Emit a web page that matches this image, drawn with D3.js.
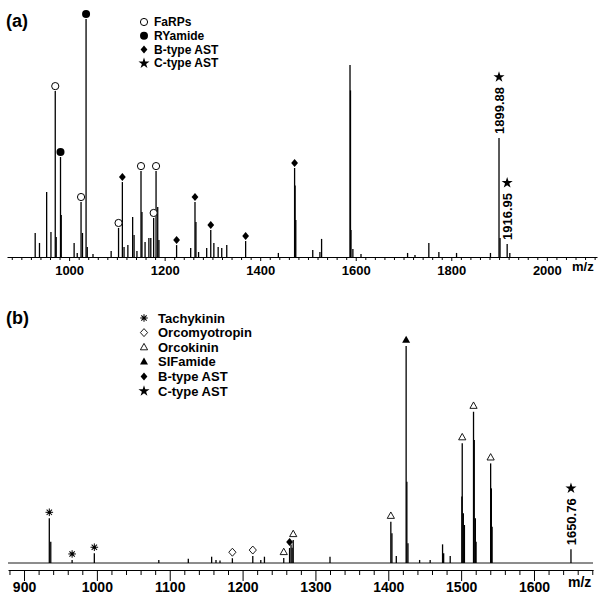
<!DOCTYPE html>
<html>
<head>
<meta charset="utf-8">
<script src="https://cdn.jsdelivr.net/npm/d3@7"></script>
<style>
  body { margin: 0; background: #fff; }
  svg { display: block; }
  text { font-family: Arial, "Liberation Sans", sans-serif; font-weight: bold; fill: #000; }
</style>
</head>
<body>
<svg id="chart" width="602" height="599"></svg>
<script>
// ---- panel (a) data: [m/z, relative intensity %] ----
const topPeaks = [
  [929, 10.1], [938, 5.9], [953, 27.3], [962, 10.5], [973, 8.4], [983.5, 17.6],
  [1010.5, 5.9], [1017, 1.7], [1028, 10.1], [1038, 4.2], [1050, 1.3], [1088, 2.5],
  [1115, 4.2], [1123, 5], [1133, 16.8], [1136, 9.2], [1142, 2.5], [1152.5, 18.9],
  [1159, 6.3], [1167, 8], [1171, 8], [1185.5, 21], [1188, 7.1], [1254.5, 3.8],
  [1265.5, 14.7], [1271, 2.1], [1288, 3.8], [1303, 5.9], [1312, 4.2], [1319.5, 3.8],
  [1330, 5], [1438, 1.7], [1473, 30], [1474.5, 15.5], [1510, 2.9], [1525, 2.1],
  [1528.5, 7.6], [1588, 80.7], [1589, 70], [1590, 11.3], [1594, 3.4], [1611, 1.3],
  [1708.5, 1.7], [1724, 0.8], [1753, 5.9], [1774, 2.1], [1811, 1.7], [1882, 1.7],
  [1902, 8], [1922.5, 1.7]
];
const topFaRPs = [[971, 69.7], [1025, 23.1], [1103.5, 12.2], [1150.5, 36.1], [1177, 16.4], [1182, 36.1]];
const topRYamide = [[982, 42], [1035.5, 100]];
const topBAST = [[1111.5, 31.5], [1225, 5], [1263.5, 23.1], [1296.5, 11.3], [1369.5, 6.7], [1472, 37.4]];
const topCAST = [[1899.88, 50], [1916.95, 5.5]];
const topTicks = [1000, 1200, 1400, 1600, 1800, 2000];
const topLegend = ['FaRPs', 'RYamide', 'B-type AST', 'C-type AST'];

// ---- panel (b) data ----
const botPeaks = [
  [936.7, 9.8], [1085, 1.4], [1125.5, 2.0], [1157.5, 2.9], [1163.5, 1.4], [1169, 1.1],
  [1225, 1.4], [1230, 2.9], [1266.5, 8.5], [1268, 7], [1320, 2.9], [1405, 13.7],
  [1411, 3.2], [1425.5, 37.5], [1427, 9.1], [1443, 1.4], [1457.5, 1.4], [1474.5, 8.6],
  [1476, 4.5], [1485, 3.2], [1501, 30.6], [1503, 22.9], [1504.5, 17.5], [1518, 56.7],
  [1519.5, 20.6], [1520.5, 9.8], [1541.5, 34.4], [1542.5, 16.7]
];
const botTachykinin = [[934.7, 20.6], [966, 1.4], [996.5, 4.5]];
const botOrcomyotropin = [[1186, 2.2], [1214, 3.2]];
const botOrcokinin = [[1256.5, 2.3], [1269.5, 10.6], [1403.5, 19.0], [1501.5, 55.2], [1517, 69.7], [1540.5, 45.9]];
const botSIFamide = [[1424.5, 100]];
const botBAST = [[1264.5, 6.9]];
const botCAST = [[1650.76, 6.3]];
const botTicks = [900, 1000, 1100, 1200, 1300, 1400, 1500, 1600];
const botLegend = ['Tachykinin', 'Orcomyotropin', 'Orcokinin', 'SIFamide', 'B-type AST', 'C-type AST'];

const svg = d3.select('#chart');

// marker shapes
function marker(g, type, x, y) {
  let m;
  switch (type) {
    case 'openCircle':
      m = g.append('circle').attr('r', 3.6).attr('fill', '#fff').attr('stroke', '#000').attr('stroke-width', 1);
      break;
    case 'filledCircle':
      m = g.append('circle').attr('r', 4).attr('fill', '#000');
      break;
    case 'diamond':
      m = g.append('path').attr('d', 'M0,-4L3.4,0L0,4L-3.4,0Z').attr('fill', '#000');
      break;
    case 'openDiamond':
      m = g.append('path').attr('d', 'M0,-4L3.6,0L0,4L-3.6,0Z').attr('fill', '#fff').attr('stroke', '#000').attr('stroke-width', 0.9);
      break;
    case 'star':
      m = g.append('path').attr('d', d3.symbol(d3.symbolStar, 38)()).attr('fill', '#000');
      break;
    case 'openTriangle':
      m = g.append('path').attr('d', 'M0,-3.8L3.6,2.6L-3.6,2.6Z').attr('fill', '#fff').attr('stroke', '#000').attr('stroke-width', 0.9);
      break;
    case 'filledTriangle':
      m = g.append('path').attr('d', 'M0,-4.2L4,2.8L-4,2.8Z').attr('fill', '#000');
      break;
    case 'asterisk': {
      m = g.append('g');
      for (let a of [0, 45, 90, 135]) {
        m.append('line').attr('x1', -3.8).attr('x2', 3.8).attr('y1', 0).attr('y2', 0)
          .attr('transform', `rotate(${a})`).attr('stroke', '#000').attr('stroke-width', 1);
      }
      m.append('circle').attr('r', 1.6).attr('fill', '#000');
      break;
    }
  }
  m.attr('transform', function () {
    let t = d3.select(this).attr('transform');
    return `translate(${x},${y})` + (t ? ' ' + t : '');
  });
  return m;
}

function drawPanel(opts) {
  let { x, y, peaks, groups, ticks, minorStep, axisY, majorSize, minorSize, labelSize, pad, mzY, mzSize, legend, legendX, legendY, legendStep, legendFont, tag, tagY, baseline, offset } = opts;
  let g = svg.append('g');

  if (baseline) {
    g.append('line').attr('x1', x.range()[0]).attr('x2', x.range()[1])
      .attr('y1', y(0)).attr('y2', y(0)).attr('stroke', '#000').attr('stroke-width', 0.9);
  }

  let all = peaks.concat(...groups.map(d => d.data));
  g.append('g').selectAll('line').data(all).join('line')
    .attr('x1', d => x(d[0])).attr('x2', d => x(d[0]))
    .attr('y1', y(0)).attr('y2', d => y(d[1]))
    .attr('stroke', '#000').attr('stroke-width', 1.3);

  // minor ticks
  let [d0, d1] = x.domain();
  let minor = d3.range(Math.ceil(d0 / minorStep) * minorStep, d1, minorStep).filter(v => !ticks.includes(v));
  g.append('g').attr('transform', `translate(0,${axisY})`)
    .call(d3.axisBottom(x).tickValues(minor).tickSize(minorSize).tickSizeOuter(0).tickFormat(''))
    .call(a => a.select('.domain').attr('stroke-width', 1.2));
  g.append('g').attr('transform', `translate(0,${axisY})`)
    .call(d3.axisBottom(x).tickValues(ticks).tickSize(majorSize).tickPadding(pad).tickSizeOuter(0).tickFormat(d3.format('d')))
    .call(a => a.select('.domain').remove())
    .call(a => a.selectAll('text').attr('font-size', labelSize).attr('font-family', 'Arial, "Liberation Sans", sans-serif').attr('font-weight', 'bold').attr('fill', '#000'));

  g.append('text').attr('x', x.range()[1] - 25).attr('y', mzY).attr('font-size', mzSize).text('m/z');

  // markers + labels
  for (let grp of groups) {
    for (let d of grp.data) {
      let px = x(d[0]), top = y(d[1]);
      if (grp.label) {
        let t = g.append('text').attr('font-size', 13).attr('dominant-baseline', 'central')
          .attr('transform', `translate(${px + 0.5},${top - 4}) rotate(-90)`).text(d[0].toFixed(2));
        let len = t.node().getComputedTextLength();
        marker(g, grp.type, px, top - 4 - len - 10);
      } else {
        marker(g, grp.type, px, top - offset);
      }
    }
  }

  // legend
  legend.forEach((name, i) => {
    let ly = legendY + i * legendStep;
    marker(g, groups[i].type, legendX, ly);
    g.append('text').attr('x', legendX + (opts.legendGap || 10)).attr('y', ly)
      .attr('dominant-baseline', 'central').attr('font-size', legendFont).text(name);
  });

  g.append('text').attr('x', 6).attr('y', tagY).attr('font-size', 18).attr('dominant-baseline', 'central').text(tag);
}

// panel (a)
drawPanel({
  x: d3.scaleLinear().domain([870, 2105]).range([7, 597]),
  y: d3.scaleLinear().domain([0, 100]).range([257, 19]),
  peaks: topPeaks,
  groups: [
    { type: 'openCircle', data: topFaRPs },
    { type: 'filledCircle', data: topRYamide },
    { type: 'diamond', data: topBAST },
    { type: 'star', data: topCAST, label: true },
  ],
  ticks: topTicks, minorStep: 20, axisY: 257, majorSize: 4, minorSize: 3, labelSize: 13, pad: 5,
  mzY: 271, mzSize: 13,
  legend: topLegend, legendX: 144, legendY: 22, legendStep: 13.8, legendFont: 12, legendGap: 10,
  tag: '(a)', tagY: 21, baseline: false, offset: 5,
});

// panel (b)
drawPanel({
  x: d3.scaleLinear().domain([878, 1681]).range([8, 593]),
  y: d3.scaleLinear().domain([0, 100]).range([563, 346]),
  peaks: botPeaks,
  groups: [
    { type: 'asterisk', data: botTachykinin },
    { type: 'openDiamond', data: botOrcomyotropin },
    { type: 'openTriangle', data: botOrcokinin },
    { type: 'filledTriangle', data: botSIFamide },
    { type: 'diamond', data: botBAST },
    { type: 'star', data: botCAST, label: true },
  ],
  ticks: botTicks, minorStep: 20, axisY: 570, majorSize: 11, minorSize: 5, labelSize: 14, pad: 1,
  mzY: 587, mzSize: 14,
  legend: botLegend, legendX: 144, legendY: 318, legendStep: 14.6, legendFont: 13, legendGap: 14,
  tag: '(b)', tagY: 318, baseline: true, offset: 6,
});
</script>
</body>
</html>
